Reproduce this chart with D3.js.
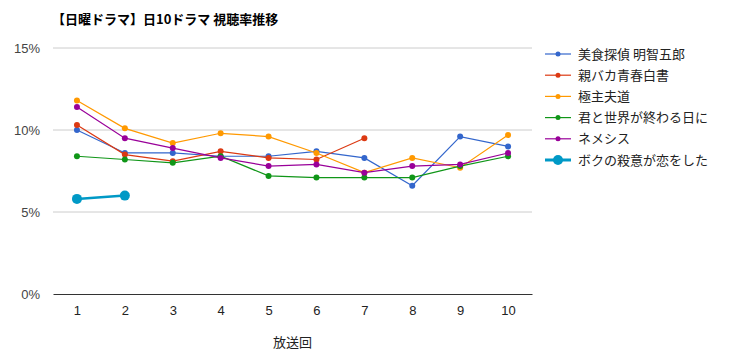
<!DOCTYPE html>
<html>
<head>
<meta charset="utf-8">
<script src="https://cdn.jsdelivr.net/npm/d3@7"></script>
<style>
  body { margin: 0; background: #fff; }
  svg { font-family: "Noto Sans CJK JP", "Noto Sans", sans-serif; }
</style>
</head>
<body>
<div id="chart"></div>
<script>
// episodes and ratings (%)
let episodes = [1, 2, 3, 4, 5, 6, 7, 8, 9, 10]
let yTicks = [0, 5, 10, 15]
let seriesNames = ['美食探偵 明智五郎', '親バカ青春白書', '極主夫道', '君と世界が終わる日に', 'ネメシス', 'ボクの殺意が恋をした']
let colors = ['#3366cc', '#dc3912', '#ff9900', '#109618', '#990099', '#0099c6']

let bishoku = [10.0, 8.6, 8.6, 8.4, 8.4, 8.7, 8.3, 6.6, 9.6, 9.0]
let oyabaka = [10.3, 8.5, 8.1, 8.7, 8.3, 8.2, 9.5]
let gokushufudo = [11.8, 10.1, 9.2, 9.8, 9.6, 8.6, 7.4, 8.3, 7.7, 9.7]
let kimisekai = [8.4, 8.2, 8.0, 8.4, 7.2, 7.1, 7.1, 7.1, 7.8, 8.4]
let nemesis = [11.4, 9.5, 8.9, 8.3, 7.8, 7.9, 7.4, 7.8, 7.9, 8.6]
let bokuno = [5.8, 6.0]

let allSeries = [bishoku, oyabaka, gokushufudo, kimisekai, nemesis, bokuno]

let width = 740
let height = 353
let margin = {top: 48, right: 208, bottom: 59, left: 53}
let innerWidth = width - margin.left - margin.right
let innerHeight = height - margin.top - margin.bottom

let svg = d3.select('#chart')
            .append('svg')
            .attr('width', width)
            .attr('height', height)

svg.append('text')
   .attr('x', 52)
   .attr('y', 24)
   .attr('font-size', 13)
   .attr('font-weight', 'bold')
   .attr('fill', '#000')
   .text('【日曜ドラマ】日10ドラマ 視聴率推移')

let g = svg.append('g').attr('transform', `translate(${margin.left},${margin.top})`)

let xScale = d3.scalePoint()
               .domain(episodes)
               .range([0, innerWidth])
               .padding(0.5)

let yScale = d3.scaleLinear()
               .domain([0, 15])
               .range([innerHeight, 0])

// gridlines
g.selectAll('.grid')
 .data(yTicks.filter(d => d > 0))
 .enter().append('line')
 .attr('x1', 0).attr('x2', innerWidth)
 .attr('y1', d => yScale(d)).attr('y2', d => yScale(d))
 .attr('stroke', '#cccccc')

let yAxis = g.append('g')
             .call(d3.axisLeft(yScale).tickValues(yTicks).tickSize(0).tickPadding(13).tickFormat(d => d + '%'))
yAxis.select('.domain').remove()
yAxis.selectAll('text').attr('font-size', 13).attr('fill', '#444')

let xAxis = g.append('g')
             .attr('transform', `translate(0,${innerHeight})`)
             .call(d3.axisBottom(xScale).tickSize(0).tickPadding(12))
xAxis.select('.domain').attr('stroke', '#333')
xAxis.selectAll('text').attr('font-size', 13).attr('fill', '#222')

g.append('text')
 .attr('x', innerWidth / 2)
 .attr('y', innerHeight + 53)
 .attr('text-anchor', 'middle')
 .attr('font-size', 13)
 .attr('fill', '#222')
 .text('放送回')

let line = d3.line()
             .x((d, i) => xScale(episodes[i]))
             .y(d => yScale(d))

allSeries.forEach(function (vals, k) {
  let big = k === 5
  g.append('path')
   .datum(vals)
   .attr('fill', 'none')
   .attr('stroke', colors[k])
   .attr('stroke-width', big ? 2.5 : 1.2)
   .attr('d', line)
  g.selectAll('.pt' + k)
   .data(vals)
   .enter().append('circle')
   .attr('cx', (d, i) => xScale(episodes[i]))
   .attr('cy', d => yScale(d))
   .attr('r', big ? 5 : 3)
   .attr('fill', colors[k])
})

// legend
let legend = svg.append('g').attr('transform', 'translate(545,54)')
seriesNames.forEach(function (name, k) {
  let big = k === 5
  let row = legend.append('g').attr('transform', `translate(0,${k * 21.2})`)
  row.append('line')
     .attr('x1', 0).attr('x2', 26)
     .attr('stroke', colors[k])
     .attr('stroke-width', big ? 3 : 1.2)
  row.append('circle')
     .attr('cx', 13).attr('r', big ? 5 : 2.5)
     .attr('fill', colors[k])
  row.append('text')
     .attr('x', 33).attr('y', 4.5)
     .attr('font-size', 13)
     .attr('fill', '#222')
     .text(name)
})
</script>
</body>
</html>
